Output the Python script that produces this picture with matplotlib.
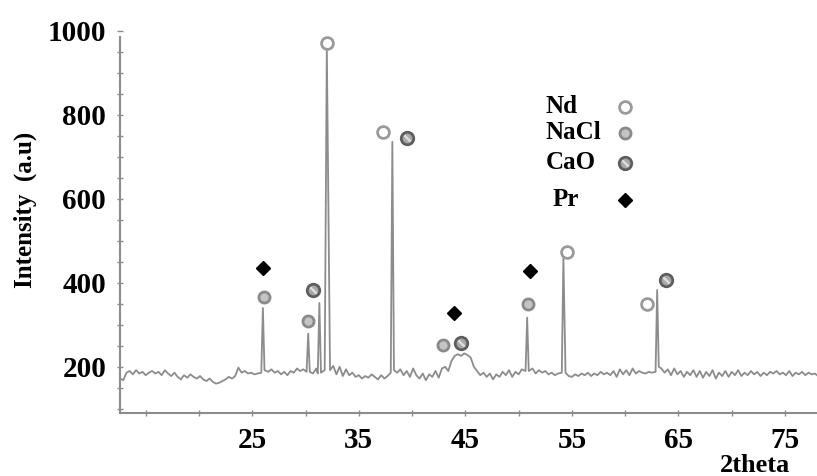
import matplotlib
matplotlib.use("Agg")
import matplotlib.pyplot as plt
from matplotlib.ticker import MultipleLocator, FixedLocator

# XRD pattern (2theta, intensity a.u.)
two_theta = [12.6, 12.9, 13.2, 13.5, 13.8, 14.1, 14.4, 14.7, 15.0, 15.3, 15.6, 15.9, 16.2, 16.5,
             16.8, 17.1, 17.4, 17.7, 18.0, 18.3, 18.6, 18.9, 19.2, 19.5, 19.8, 20.1, 20.4, 20.7,
             21.0, 21.3, 21.6, 21.9, 22.2, 22.5, 22.8, 23.1, 23.4, 23.7, 24.0, 24.3, 24.6, 24.9,
             25.2, 25.5, 25.85, 26.0, 26.15,
             26.5, 26.8, 27.1, 27.4, 27.7, 28.0, 28.3, 28.6, 28.9, 29.2, 29.5, 29.8,
             30.1, 30.25, 30.4, 30.7, 31.0, 31.15, 31.3, 31.45, 31.8, 32.0, 32.3, 32.6, 32.9,
             33.2, 33.5, 33.8, 34.1, 34.4, 34.7, 35.0, 35.3, 35.6, 35.9, 36.2, 36.5, 36.8, 37.1,
             37.4, 37.7, 38.0, 38.15, 38.3, 38.6, 38.9, 39.2, 39.5, 39.8, 40.1, 40.4, 40.7, 41.0,
             41.3, 41.6, 41.9, 42.2, 42.5, 42.8, 43.1, 43.4, 43.7, 44.0, 44.3, 44.6, 44.9, 45.2,
             45.5, 45.8, 46.1, 46.4, 46.7, 47.0, 47.3, 47.6, 47.9, 48.2, 48.5, 48.8, 49.1, 49.4,
             49.7, 50.0, 50.3, 50.65, 50.8, 50.95, 51.3, 51.6, 51.9, 52.2, 52.5, 52.8, 53.1, 53.4,
             53.7, 54.05, 54.2, 54.4, 54.7, 55.0, 55.3, 55.6, 55.9, 56.2, 56.5, 56.8, 57.1, 57.4,
             57.7, 58.0, 58.3, 58.6, 58.9, 59.2, 59.5, 59.8, 60.1, 60.4, 60.7, 61.0, 61.3, 61.6,
             61.9, 62.2, 62.5, 62.85, 63.0, 63.15, 63.4, 63.7, 64.0, 64.3, 64.6, 64.9, 65.2, 65.5,
             65.8, 66.1, 66.4, 66.7, 67.0, 67.3, 67.6, 67.9, 68.2, 68.5, 68.8, 69.1, 69.4, 69.7,
             70.0, 70.3, 70.6, 70.9, 71.2, 71.5, 71.8, 72.1, 72.4, 72.7, 73.0, 73.3, 73.6, 73.9,
             74.2, 74.5, 74.8, 75.1, 75.4, 75.7, 76.0, 76.3, 76.6, 76.9, 77.2, 77.5, 77.8, 78.0]
intensity = [172, 168, 186, 190, 182, 192, 184, 188, 180, 186, 190, 184, 188, 180,
             192, 184, 178, 186, 176, 170, 180, 174, 182, 176, 172, 178, 170, 166,
             172, 164, 160, 162, 166, 170, 176, 172, 178, 198, 186, 190, 184, 186,
             182, 184, 186, 340, 192,
             188, 194, 186, 190, 182, 188, 180, 190, 186, 196, 190, 194,
             188, 279, 188, 184, 196, 184, 352, 186, 192, 960, 192, 202, 182,
             200, 178, 194, 180, 186, 176, 180, 172, 178, 174, 182, 176, 170, 180,
             172, 178, 186, 736, 192, 186, 194, 180, 190, 176, 196, 180, 172, 184,
             168, 182, 176, 190, 174, 196, 200, 190, 214, 226, 230, 226, 232, 228,
             222, 200, 190, 180, 186, 176, 184, 170, 182, 176, 188, 180, 192, 176,
             188, 182, 194, 190, 317, 190, 196, 184, 192, 186, 190, 182, 186, 180,
             184, 186, 460, 186, 178, 176, 182, 178, 184, 180, 186, 178, 184, 180,
             188, 182, 186, 180, 190, 176, 194, 182, 192, 180, 196, 184, 190, 186,
             184, 188, 186, 188, 383, 200, 196, 186, 194, 180, 196, 182, 190, 176,
             188, 180, 192, 176, 190, 174, 188, 178, 192, 172, 186, 178, 190, 176,
             188, 180, 192, 178, 186, 180, 190, 182, 188, 178, 186, 180, 188, 184,
             190, 182, 186, 180, 190, 178, 186, 182, 188, 180, 186, 182, 184, 180]

# phase markers
nd_x = [32.0, 37.3, 54.5, 62.0]
nd_y = [971, 760, 474, 350]
nacl_x = [26.1, 30.25, 42.9, 50.9]
nacl_y = [367, 310, 252, 350]
cao_x = [30.7, 39.5, 44.6, 63.8]
cao_y = [383, 745, 257, 407]
pr_x = [26.0, 43.9, 51.1]
pr_y = [436, 329, 429]

phases = ["Nd", "NaCl", "CaO", "Pr"]

font = {"family": "Liberation Serif", "weight": "bold"}

fig = plt.figure(figsize=(8.17, 4.76), dpi=100)
ax = fig.add_axes([0.147, 0.1324, 0.853, 0.8025])

ax.plot(two_theta, intensity, color="#8c8c8c", lw=1.3)

nd_style = dict(ls="none", marker="o", ms=8.5, mfc="white", mec="#9a9a9a", mew=2)
nacl_style = dict(ls="none", marker="o", ms=8, mfc="#c4c4c4", mec="#8a8a8a", mew=2)
cao_style = dict(ls="none", marker="o", ms=9, mfc="#a8a8a8", mec="#5e5e5e", mew=2)
pr_style = dict(ls="none", marker="D", ms=7.5, mfc="black", mec="black")
slash = dict(ls="none", marker=(2, 2, 45), ms=6, mec="#dddddd", mew=1.5)

ax.plot(nd_x, nd_y, **nd_style)
ax.plot(nacl_x, nacl_y, **nacl_style)
ax.plot(cao_x, cao_y, **cao_style)
ax.plot(cao_x, cao_y, **slash)
ax.plot(pr_x, pr_y, **pr_style)

# legend drawn by hand like the original
leg_y = [819, 757, 686, 598]
leg_styles = [nd_style, nacl_style, cao_style, pr_style]
for name, ly, st in zip(phases, leg_y, leg_styles):
    tx = 53.2 if name == "Pr" else 52.5
    ax.text(tx, ly, name, fontsize=18, va="center", ha="left", **font)
    ax.plot([60.0], [ly], **st)
    if name == "CaO":
        ax.plot([60.0], [ly], **slash)

ax.set_xlim(12.6, 78)
ax.set_ylim(90, 1000)

for s in ["top", "right"]:
    ax.spines[s].set_visible(False)
for s in ["left", "bottom"]:
    ax.spines[s].set_color("#8c8c8c")
    ax.spines[s].set_linewidth(1.5)
ax.spines["left"].set_bounds(90, 985)

ax.xaxis.set_major_locator(FixedLocator([25, 35, 45, 55, 65, 75]))
ax.xaxis.set_minor_locator(FixedLocator([15, 20, 30, 40, 50, 60, 70]))
ax.yaxis.set_major_locator(FixedLocator([200, 400, 600, 800, 1000]))
ax.yaxis.set_minor_locator(FixedLocator(list(range(100, 1000, 50))))
ax.tick_params(which="both", direction="inout", length=4, width=1, color="#8c8c8c")
ax.tick_params(axis="y", pad=8)
ax.tick_params(axis="x", pad=8)

for lab in ax.get_xticklabels() + ax.get_yticklabels():
    lab.set_fontfamily("Liberation Serif")
    lab.set_fontweight("bold")
    lab.set_fontsize(21)

fig.text(0.031, 0.56, "Intensity  (a.u)", rotation=90, fontsize=18, va="center", ha="center", **font)
fig.text(0.924, 0.022, "2theta", fontsize=19, va="center", ha="center", **font)

plt.savefig("out.png", dpi=100)
